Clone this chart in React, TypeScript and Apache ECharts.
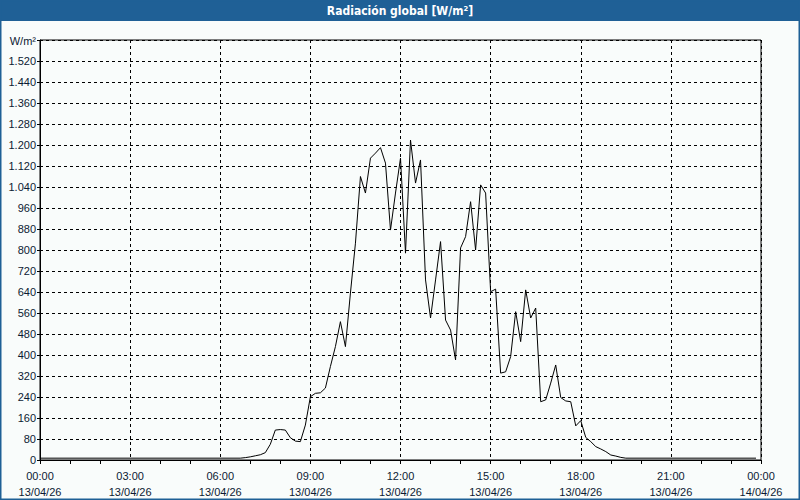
import React, { useEffect, useRef } from "react";
import * as echarts from "echarts";

const times: string[] = [
  "00:00", "06:40", "06:50", "07:00", "07:10", "07:20", "07:30", "07:40", "07:50",
  "08:00", "08:10", "08:20", "08:30", "08:40", "08:50", "09:00", "09:10", "09:20",
  "09:30", "09:40", "09:50", "10:00", "10:10", "10:20", "10:30", "10:40", "10:50",
  "11:00", "11:10", "11:20", "11:30", "11:40", "11:50", "12:00", "12:10", "12:20",
  "12:30", "12:40", "12:50", "13:00", "13:10", "13:20", "13:30", "13:40", "13:50",
  "14:00", "14:10", "14:20", "14:30", "14:40", "14:50", "15:00", "15:10", "15:20",
  "15:30", "15:40", "15:50", "16:00", "16:10", "16:20", "16:30", "16:40", "16:50",
  "17:00", "17:10", "17:20", "17:30", "17:40", "17:50", "18:00", "18:10", "18:20",
  "18:30", "18:40", "18:50", "19:00", "19:10", "19:20", "19:30", "23:50",
];

const radiation: number[] = [
  7, 7, 9, 12, 16, 20, 28, 60, 114,
  116, 114, 85, 72, 70, 133, 241, 254, 256,
  274, 356, 432, 527, 432, 636, 826, 1080, 1017,
  1150, 1169, 1190, 1131, 876, 1017, 1150, 788, 1219,
  1055, 1143, 686, 541, 686, 832, 533, 495, 381,
  808, 851, 984, 800, 1048, 1017, 641, 651, 331,
  336, 394, 565, 451, 648, 541, 579, 222, 229,
  293, 362, 238, 225, 222, 130, 150, 86, 70,
  51, 42, 32, 19, 15, 10, 7, 7,
];

const xTickLabels: string[] = [
  "00:00\n13/04/26", "03:00\n13/04/26", "06:00\n13/04/26", "09:00\n13/04/26",
  "12:00\n13/04/26", "15:00\n13/04/26", "18:00\n13/04/26", "21:00\n13/04/26",
  "00:00\n14/04/26",
];

const titleText = "Radiación global [W/m²]";
const unitText = "W/m²";

function toHours(t: string): number {
  const [h, m] = t.split(":").map(Number);
  return h + m / 60;
}

function fmtThousands(v: number): string {
  return String(v).replace(/\B(?=(\d{3})+(?!\d))/g, ".");
}

export default function App() {
  const ref = useRef<HTMLDivElement>(null);
  useEffect(() => {
    if (!ref.current) return;
    const chart = echarts.init(ref.current, undefined, { renderer: "svg" });
    const textColor = "#0c1a33";
    const font = "Liberation Sans";
    const data = times.map((t, i) => [toHours(t), radiation[i]]);
    chart.setOption({
      animation: false,
      backgroundColor: "#f9fcfb",
      grid: {
        left: 40,
        right: 39,
        top: 40,
        bottom: 40,
        show: true,
        borderColor: "#000",
        borderWidth: 1,
        backgroundColor: "transparent",
      },
      graphic: [
        {
          type: "rect",
          shape: { x: 0, y: 0, width: 800, height: 21 },
          style: { fill: "#1f6096" },
          z: 10,
        },
        {
          type: "text",
          x: 400,
          y: 11,
          style: {
            text: titleText,
            fill: "#fff",
            font: "bold 12px 'DejaVu Sans Condensed', 'Liberation Sans', sans-serif",
            textAlign: "center",
            textVerticalAlign: "middle",
          },
          z: 11,
        },
        {
          type: "rect",
          shape: { x: 0.75, y: 0.75, width: 798.5, height: 498.5 },
          style: { fill: "none", stroke: "#1f6096", lineWidth: 1.5 },
          z: 10,
        },
      ],
      xAxis: {
        type: "value",
        min: 0,
        max: 24,
        interval: 3,
        axisLine: { show: true, lineStyle: { color: "#000" } },
        axisTick: { show: true, length: 4, lineStyle: { color: "#000" } },
        minorTick: { show: true, splitNumber: 3, length: 4, lineStyle: { color: "#000" } },
        splitLine: { show: true, lineStyle: { color: "#000", type: [3, 3], width: 1 } },
        axisLabel: {
          color: textColor,
          fontFamily: font,
          fontSize: 11,
          lineHeight: 16,
          margin: 8,
          formatter: (v: number) => xTickLabels[Math.round(v / 3)] ?? "",
        },
      },
      yAxis: {
        type: "value",
        min: 0,
        max: 1600,
        interval: 80,
        name: unitText,
        nameLocation: "end",
        nameGap: -6,
        nameTextStyle: {
          color: textColor,
          fontFamily: font,
          fontSize: 11,
          align: "right",
          padding: [0, 4, 0, 0],
        },
        axisLine: { show: true, lineStyle: { color: "#000" } },
        axisTick: { show: true, length: 3, lineStyle: { color: "#000" } },
        splitLine: { show: true, lineStyle: { color: "#000", type: [3, 3], width: 1 } },
        axisLabel: {
          color: textColor,
          fontFamily: font,
          fontSize: 11,
          margin: 4,
          formatter: (v: number) => (v >= 1600 ? "" : fmtThousands(v)),
        },
      },
      series: [
        {
          type: "line",
          data,
          showSymbol: false,
          symbol: "none",
          lineStyle: { color: "#000", width: 1 },
          z: 5,
        },
      ],
    });
    return () => chart.dispose();
  }, []);
  return (
    <div
      ref={ref}
      style={{ position: "fixed", left: 0, top: 0, width: 800, height: 500 }}
    />
  );
}
